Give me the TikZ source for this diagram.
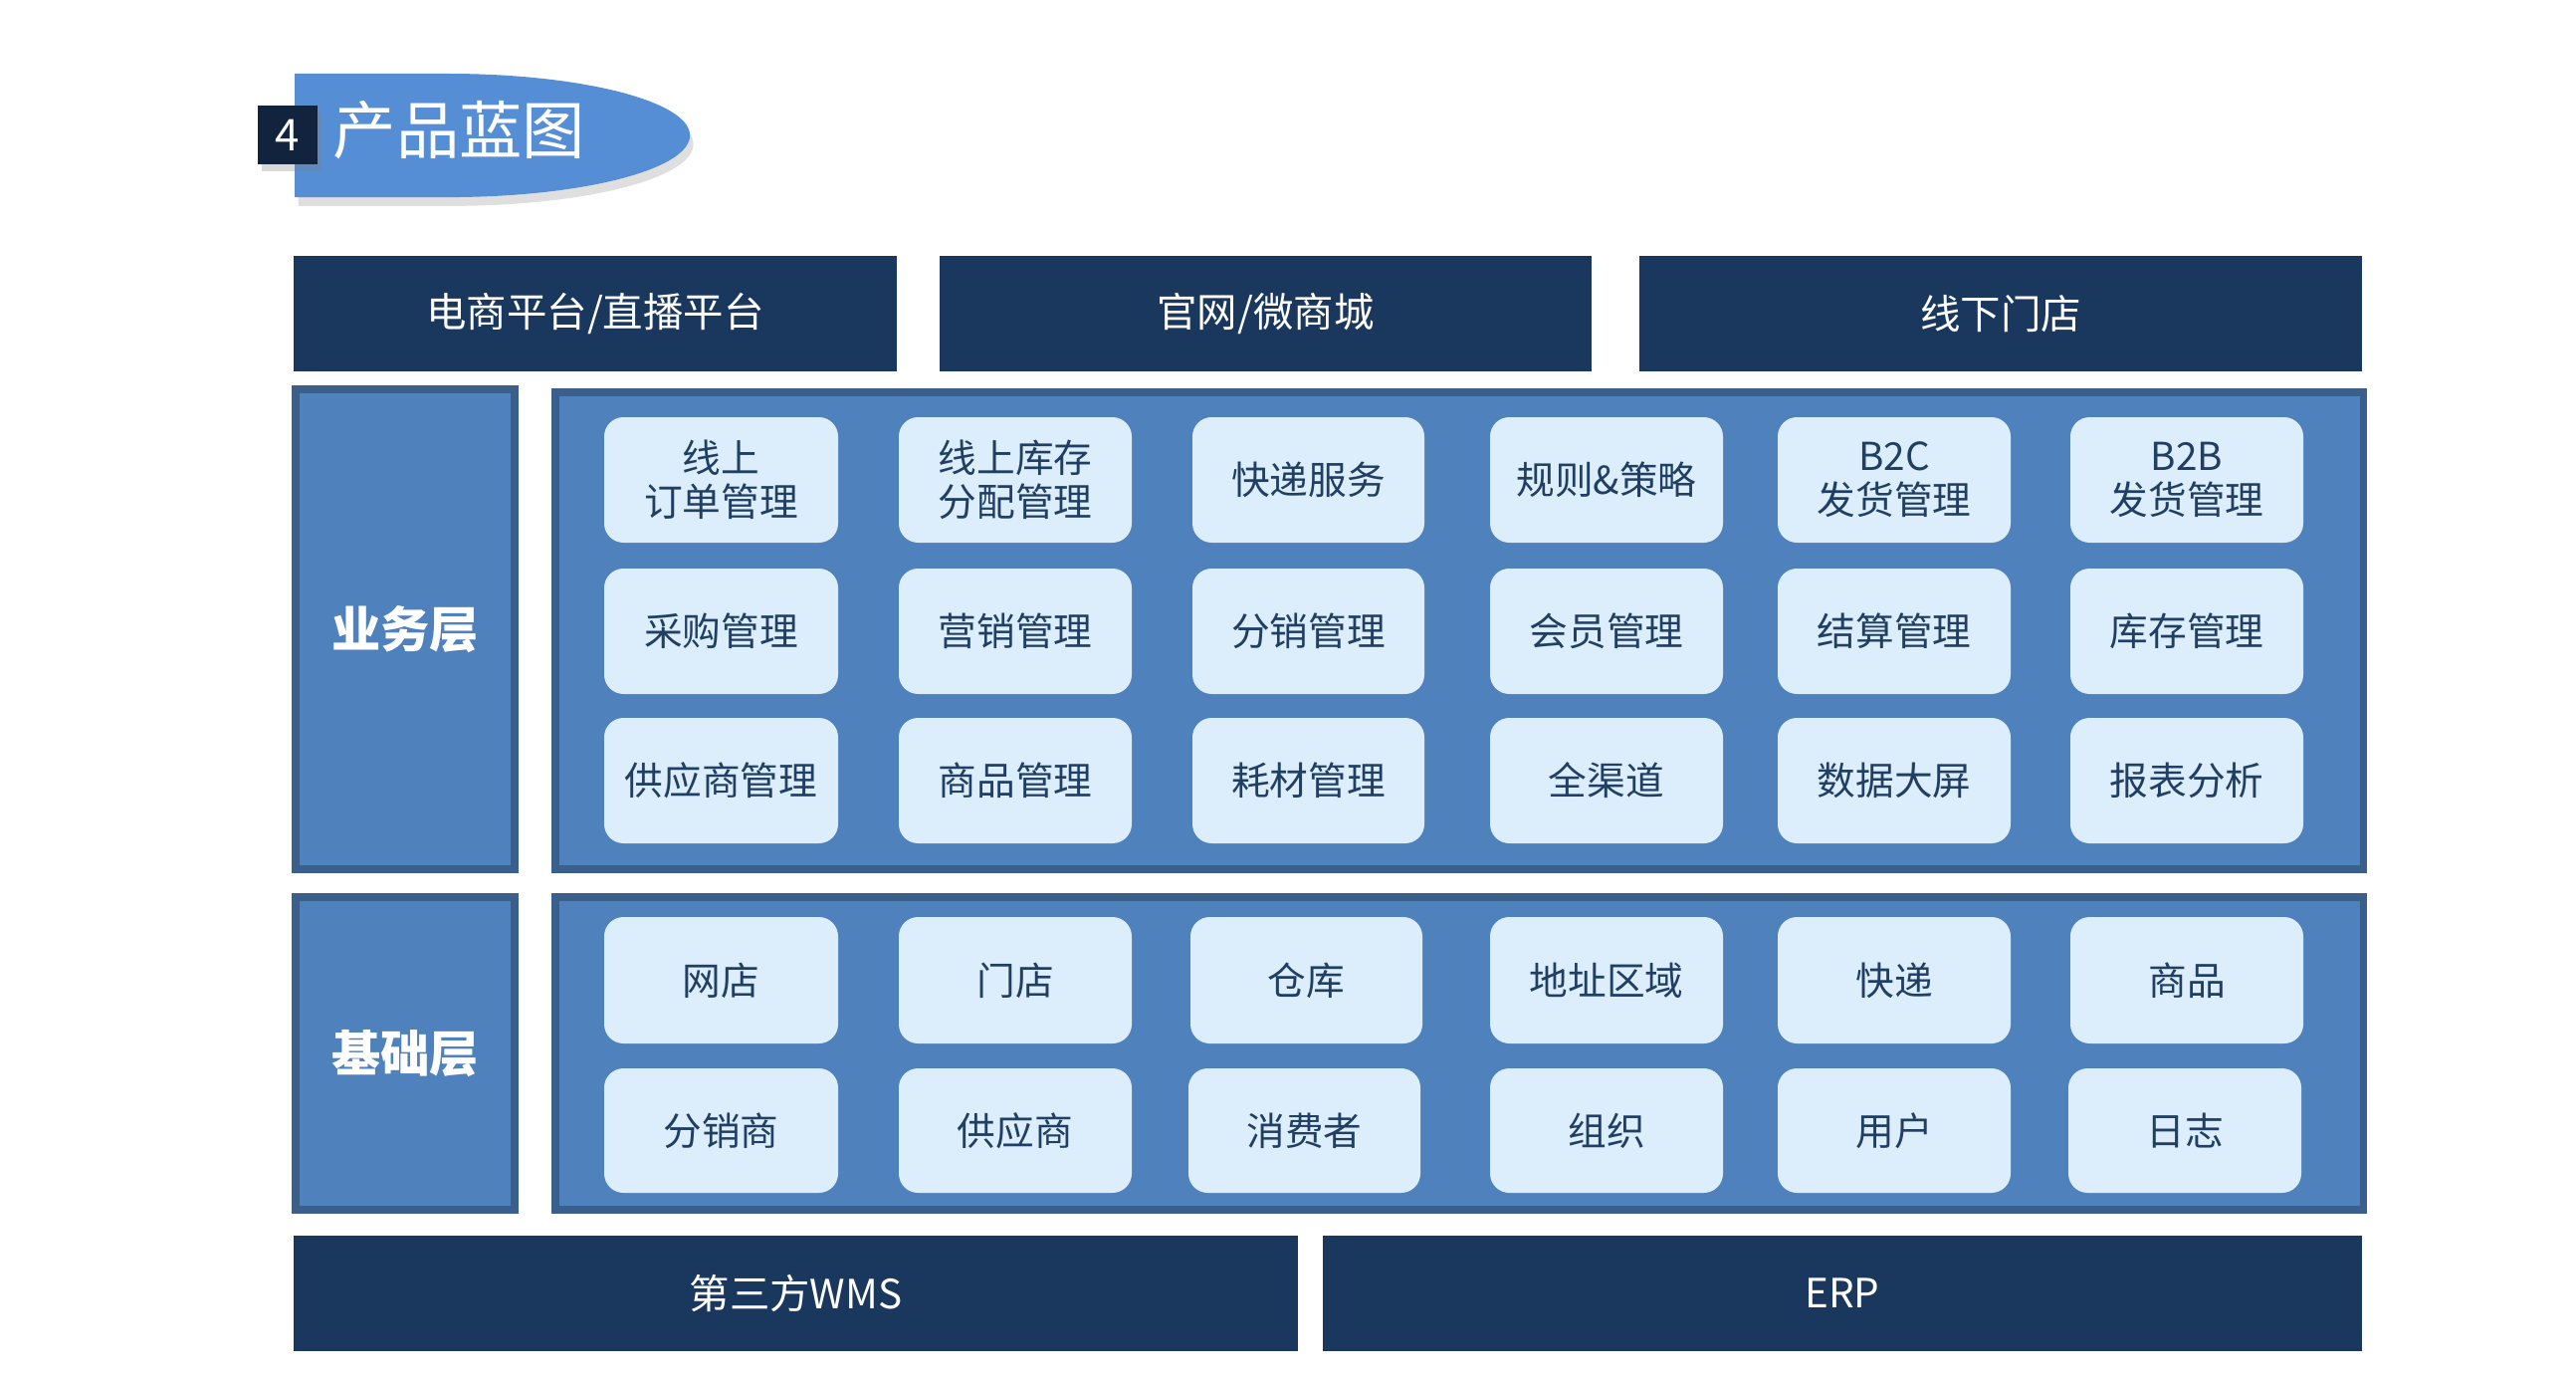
\documentclass[tikz,border=0pt]{standalone}
\usepackage{fontspec}
\setmainfont{Noto Sans CJK SC}
\usetikzlibrary{shadows}
\definecolor{navy}{HTML}{1A375E}
\definecolor{layerfill}{HTML}{4F81BD}
\definecolor{layerline}{HTML}{3A5F8B}
\definecolor{cellfill}{HTML}{DCEEFB}
\definecolor{celltext}{HTML}{213F63}
\definecolor{titleblue}{HTML}{558ED5}
\definecolor{darksq}{HTML}{12233D}
\tikzset{
  bar/.style={fill=navy, text=white, font=\fontsize{11.5pt}{14pt}\selectfont, inner sep=0pt, outer sep=0pt},
  layerbox/.style={fill=layerfill, draw=layerline, line width=2pt, inner sep=0pt, outer sep=0pt},
  layerlabel/.style={layerbox, text=white, font=\fontsize{14pt}{17pt}\selectfont\bfseries},
  cell/.style={fill=cellfill, rounded corners=5.5pt, text=celltext, align=center, font=\fontsize{11pt}{12.6pt}\selectfont, inner sep=0pt, outer sep=0pt},
}
\newcommand\bx[7]{\node[#6, minimum width={(#4-#2)*0.01cm}, minimum height={(#5-#3)*0.01cm}] (#1) at ({(#2+#4)/2},{(#3+#5)/2}) {#7};}
\begin{document}
\begin{tikzpicture}[x=0.01cm, y=-0.01cm]
\useasboundingbox (0,0) rectangle (2588,1388);
% title
\fill[titleblue, drop shadow={shadow xshift=1pt, shadow yshift=-2.5pt, opacity=0.25}] (296,74) -- (450,74) arc[start angle=90, end angle=-90, x radius=2.43cm, y radius=0.62cm] -- (296,198) -- cycle;
\bx{num}{259}{106}{319}{165}{fill=darksq, text=white, font=\fontsize{12.5pt}{15pt}\selectfont, inner sep=0pt, drop shadow={shadow xshift=1pt, shadow yshift=-2pt, opacity=0.3}}{4}
\node[anchor=west, text=white, font=\fontsize{18pt}{21pt}\selectfont, inner sep=0pt] (title) at (334,131) {产品蓝图};
% top bars
\bx{t1}{295}{257}{901}{373}{bar}{电商平台/直播平台}
\bx{t2}{944}{257}{1599}{373}{bar}{官网/微商城}
\bx{t3}{1647}{257}{2373}{373}{bar}{线下门店}
% layers
\bx{biz}{297}{391}{517}{873}{layerlabel}{业务层}
\bx{bizbox}{558}{394}{2374}{873}{layerbox}{}
\bx{base}{297}{901}{517}{1215}{layerlabel}{基础层}
\bx{basebox}{558}{901}{2374}{1215}{layerbox}{}
% bottom bars
\bx{b1}{295}{1241}{1304}{1357}{bar}{第三方WMS}
\bx{b2}{1329}{1241}{2373}{1357}{bar}{ERP}
% business cells
\bx{c11}{607}{419}{842}{545}{cell}{线上\\订单管理}
\bx{c12}{903}{419}{1137}{545}{cell}{线上库存\\分配管理}
\bx{c13}{1198}{419}{1431}{545}{cell}{快递服务}
\bx{c14}{1497}{419}{1731}{545}{cell}{规则\&策略}
\bx{c15}{1786}{419}{2020}{545}{cell}{B2C\\发货管理}
\bx{c16}{2080}{419}{2314}{545}{cell}{B2B\\发货管理}
\bx{c21}{607}{571}{842}{697}{cell}{采购管理}
\bx{c22}{903}{571}{1137}{697}{cell}{营销管理}
\bx{c23}{1198}{571}{1431}{697}{cell}{分销管理}
\bx{c24}{1497}{571}{1731}{697}{cell}{会员管理}
\bx{c25}{1786}{571}{2020}{697}{cell}{结算管理}
\bx{c26}{2080}{571}{2314}{697}{cell}{库存管理}
\bx{c31}{607}{721}{842}{847}{cell}{供应商管理}
\bx{c32}{903}{721}{1137}{847}{cell}{商品管理}
\bx{c33}{1198}{721}{1431}{847}{cell}{耗材管理}
\bx{c34}{1497}{721}{1731}{847}{cell}{全渠道}
\bx{c35}{1786}{721}{2020}{847}{cell}{数据大屏}
\bx{c36}{2080}{721}{2314}{847}{cell}{报表分析}
% base cells
\bx{d11}{607}{921}{842}{1048}{cell}{网店}
\bx{d12}{903}{921}{1137}{1048}{cell}{门店}
\bx{d13}{1196}{921}{1429}{1048}{cell}{仓库}
\bx{d14}{1497}{921}{1731}{1048}{cell}{地址区域}
\bx{d15}{1786}{921}{2020}{1048}{cell}{快递}
\bx{d16}{2080}{921}{2314}{1048}{cell}{商品}
\bx{d21}{607}{1073}{842}{1198}{cell}{分销商}
\bx{d22}{903}{1073}{1137}{1198}{cell}{供应商}
\bx{d23}{1194}{1073}{1427}{1198}{cell}{消费者}
\bx{d24}{1497}{1073}{1731}{1198}{cell}{组织}
\bx{d25}{1786}{1073}{2020}{1198}{cell}{用户}
\bx{d26}{2078}{1073}{2312}{1198}{cell}{日志}
\end{tikzpicture}
\end{document}
